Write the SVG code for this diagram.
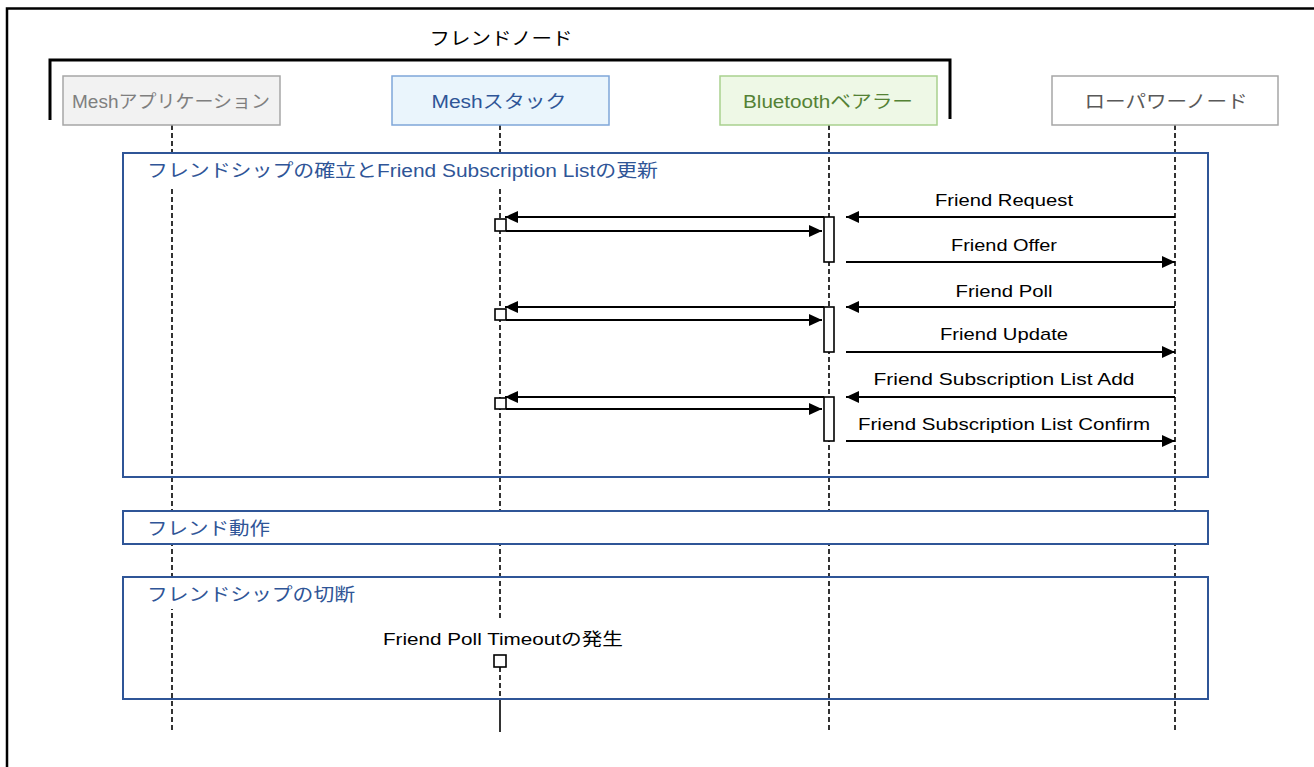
<svg xmlns="http://www.w3.org/2000/svg" width="1314" height="767" viewBox="0 0 1314 767">
<style>
text{font-family:"Liberation Sans",Arial,"Noto Sans CJK JP",sans-serif;}
.lbl{font-size:18px;text-anchor:middle;}
.msg{font-size:17px;text-anchor:middle;fill:#000;}
.frl{font-size:18px;fill:#2F5597;}
.life{stroke:#000;stroke-width:1.6;stroke-dasharray:5 3;fill:none;}
.frag{fill:none;stroke:#2F5597;stroke-width:2;}
.arr{stroke:#000;stroke-width:1.8;fill:none;marker-end:url(#ah);}
.act{fill:#fff;stroke:#000;stroke-width:1.6;}
</style>
<defs>
<marker id="ah" markerUnits="userSpaceOnUse" markerWidth="14" markerHeight="12" viewBox="0 0 14 12" refX="13" refY="6" orient="auto">
<path d="M0,0 L13,6 L0,12 Z" fill="#000"/>
</marker>
</defs>
<rect width="1314" height="767" fill="#fff"/>
<g id="frame">
<path d="M7,767 V8.5 H1314" fill="none" stroke="#000" stroke-width="2.5"/>
</g>
<g id="friend-node-bracket">
<path d="M50,120 V60 H950 V119" fill="none" stroke="#000" stroke-width="3"/>
<text x="501" y="45" font-size="18" text-anchor="middle" textLength="143" lengthAdjust="spacingAndGlyphs">フレンドノード</text>
</g>
<g id="lifelines">
<line class="life" x1="172" y1="125" x2="172" y2="732"/>
<line class="life" x1="500" y1="125" x2="500" y2="621"/>
<line class="life" x1="500" y1="667" x2="500" y2="699"/>
<line x1="500" y1="699" x2="500" y2="732" stroke="#000" stroke-width="1.6"/>
<line class="life" x1="829" y1="125" x2="829" y2="732"/>
<line class="life" x1="1175" y1="125" x2="1175" y2="732"/>
</g>
<g id="frag-establish">
<rect class="frag" x="123" y="153" width="1085" height="324"/>
<rect x="124" y="154" width="545" height="33" fill="#fff"/>
<text class="frl" x="147" y="177" textLength="511" lengthAdjust="spacingAndGlyphs">フレンドシップの確立とFriend Subscription Listの更新</text>
</g>
<g id="frag-operation">
<rect x="123" y="511" width="1085" height="33" fill="#fff" stroke="#2F5597" stroke-width="2"/>
<text class="frl" x="147" y="535" textLength="123" lengthAdjust="spacingAndGlyphs">フレンド動作</text>
</g>
<g id="frag-terminate">
<rect class="frag" x="123" y="577" width="1085" height="122"/>
<rect x="124" y="578" width="240" height="31" fill="#fff"/>
<text class="frl" x="147" y="601" textLength="208" lengthAdjust="spacingAndGlyphs">フレンドシップの切断</text>
</g>
<g id="node-mesh-app">
<rect x="63" y="76" width="217" height="49" fill="#F2F2F2" stroke="#A6A6A6" stroke-width="1.5"/>
<text class="lbl" x="171" y="108" fill="#7F7F7F" textLength="198" lengthAdjust="spacingAndGlyphs">Meshアプリケーション</text>
</g>
<g id="node-mesh-stack">
<rect x="392" y="76" width="217" height="49" fill="#EAF5FC" stroke="#7FA6D9" stroke-width="1.5"/>
<text class="lbl" x="499" y="108" fill="#2F5597" textLength="135" lengthAdjust="spacingAndGlyphs">Meshスタック</text>
</g>
<g id="node-bluetooth">
<rect x="720" y="76" width="217" height="49" fill="#EEF8E6" stroke="#A9D18E" stroke-width="1.5"/>
<text class="lbl" x="828" y="108" fill="#548235" textLength="170" lengthAdjust="spacingAndGlyphs">Bluetoothベアラー</text>
</g>
<g id="node-lpn">
<rect x="1052" y="76" width="226" height="49" fill="#FFFFFF" stroke="#A6A6A6" stroke-width="1.5"/>
<text class="lbl" x="1166" y="108" fill="#595959" textLength="163" lengthAdjust="spacingAndGlyphs">ローパワーノード</text>
</g>
<g id="activations">
<rect class="act" x="824" y="217" width="10" height="45"/>
<rect class="act" x="824" y="307" width="10" height="45"/>
<rect class="act" x="824" y="397" width="10" height="44"/>
<rect class="act" x="495" y="219" width="11" height="12"/>
<rect class="act" x="495" y="309" width="11" height="11"/>
<rect class="act" x="495" y="398" width="11" height="11"/>
<rect class="act" x="494" y="655" width="12" height="12"/>
</g>
<g id="connectors">
<line class="arr" x1="1175" y1="217" x2="846" y2="217"/>
<line class="arr" x1="824" y1="217" x2="505" y2="217"/>
<line class="arr" x1="506" y1="231" x2="822" y2="231"/>
<line class="arr" x1="846" y1="262" x2="1175" y2="262"/>
<line class="arr" x1="1175" y1="307" x2="846" y2="307"/>
<line class="arr" x1="824" y1="307" x2="505" y2="307"/>
<line class="arr" x1="506" y1="320" x2="822" y2="320"/>
<line class="arr" x1="846" y1="352" x2="1175" y2="352"/>
<line class="arr" x1="1175" y1="397" x2="846" y2="397"/>
<line class="arr" x1="824" y1="397" x2="505" y2="397"/>
<line class="arr" x1="506" y1="409" x2="822" y2="409"/>
<line class="arr" x1="846" y1="441" x2="1175" y2="441"/>
</g>
<g id="message-labels">
<text class="msg" x="1004" y="206" textLength="138" lengthAdjust="spacingAndGlyphs">Friend Request</text>
<text class="msg" x="1004" y="251" textLength="106" lengthAdjust="spacingAndGlyphs">Friend Offer</text>
<text class="msg" x="1004" y="297" textLength="97" lengthAdjust="spacingAndGlyphs">Friend Poll</text>
<text class="msg" x="1004" y="340" textLength="128" lengthAdjust="spacingAndGlyphs">Friend Update</text>
<text class="msg" x="1004" y="385" textLength="261" lengthAdjust="spacingAndGlyphs">Friend Subscription List Add</text>
<text class="msg" x="1004" y="430" textLength="292" lengthAdjust="spacingAndGlyphs">Friend Subscription List Confirm</text>
<text class="msg" x="503" y="645" textLength="240" lengthAdjust="spacingAndGlyphs">Friend Poll Timeoutの発生</text>
</g>
</svg>
